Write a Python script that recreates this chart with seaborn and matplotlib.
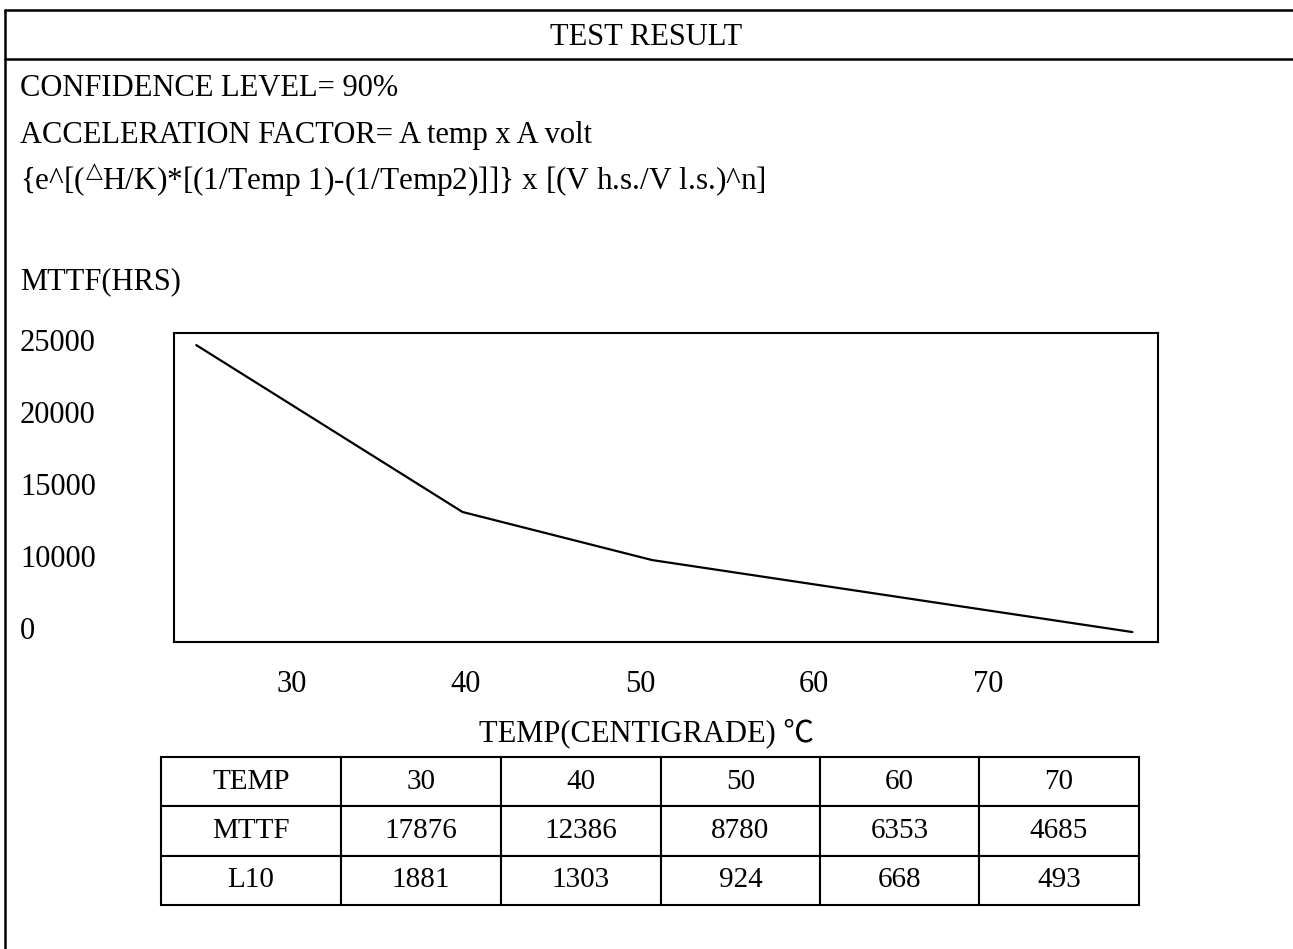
import numpy as np
import pandas as pd
import seaborn as sns
import matplotlib.pyplot as plt
from matplotlib.lines import Line2D

# curve (x in tick-label units, y in hours)
curve_temp = [24.5, 39.8, 50.7, 78.3]
curve_mttf = [24650, 13060, 9720, 4720]

# axis labels as printed (the bottom label reads "0")
ytick_pos = [25000, 20000, 15000, 10000, 5000]
ytick_labels = ["25000", "20000", "15000", "10000", "0"]
xtick_pos = [30, 40, 50, 60, 70]
xtick_labels = ["30", "40", "50", "60", "70"]

# result table
row_names = ["TEMP", "MTTF", "L10"]
table_temp = [30, 40, 50, 60, 70]
table_mttf = [17876, 12386, 8780, 6353, 4685]
table_l10 = [1881, 1303, 924, 668, 493]

sns.set_theme(style="white")
plt.rcParams['font.family'] = ['Liberation Serif', 'Noto Sans CJK SC', 'DejaVu Sans']
plt.rcParams['mathtext.fontset'] = 'dejavuserif'
for key in ['text.color', 'axes.labelcolor', 'xtick.color', 'ytick.color']:
    plt.rcParams[key] = 'black'

W, H = 1293, 949
fig = plt.figure(figsize=(W / 100, H / 100), dpi=100)


def fx(px):
    return px / W


def fy(py):
    return 1 - py / H


# page frame
for x0, y0, x1, y1 in [(5, 10, W, 10), (5, 59, W, 59), (5, 10, 5, H)]:
    fig.add_artist(Line2D([fx(x0), fx(x1)], [fy(y0), fy(y1)], color='black', lw=1.8))

fs = 22
fig.text(0.5, fy(45), "TEST RESULT", ha='center', va='baseline', fontsize=fs)
fig.text(fx(20), fy(96), "CONFIDENCE LEVEL= 90%", va='baseline', fontsize=fs)
fig.text(fx(20), fy(143), "ACCELERATION FACTOR= A temp x A volt", va='baseline', fontsize=fs)
fig.text(fx(20), fy(190),
         "{e^[(${}^{\\!\\triangle}\\!$H/K)*[(1/Temp 1)-(1/Temp2)]]} x [(V h.s./V l.s.)^n]",
         va='baseline', fontsize=fs + 0.5)
fig.text(fx(20), fy(289), "MTTF(HRS)", va='baseline', fontsize=fs)

# chart box
ax = fig.add_axes([fx(174), fy(642), fx(1158) - fx(174), fy(333) - fy(642)])
sns.lineplot(x=curve_temp, y=curve_mttf, color='black', lw=1.6, ax=ax)
ax.set_xlim(23.22, 79.77)
ax.set_ylim(4030, 25490)
ax.set_xticks(xtick_pos, xtick_labels)
ax.set_yticks(ytick_pos, ytick_labels, ha='left')
ax.tick_params(axis='both', length=0, labelsize=fs, colors='black')
ax.tick_params(axis='y', pad=(174 - 20) * 0.72)
ax.tick_params(axis='x', pad=20)
for s in ax.spines.values():
    s.set_visible(True)
    s.set_color('black')
    s.set_linewidth(1.5)
ax.set_xlabel("")
ax.set_ylabel("")

fig.text(0.5, fy(741), "TEMP(CENTIGRADE) ℃", ha='center', va='baseline', fontsize=fs)

# table under the chart
tax = fig.add_axes([fx(161), fy(905), fx(1139) - fx(161), fy(757) - fy(905)])
tax.axis('off')
cell_text = [
    [row_names[0]] + [str(v) for v in table_temp],
    [row_names[1]] + [str(v) for v in table_mttf],
    [row_names[2]] + [str(v) for v in table_l10],
]
col_w = np.array([180, 160, 160, 159, 159, 160], dtype=float)
tbl = tax.table(cellText=cell_text, cellLoc='center', bbox=[0, 0, 1, 1],
                colWidths=list(col_w / col_w.sum()))
tbl.auto_set_font_size(False)
tbl.set_fontsize(21)
for cell in tbl.get_celld().values():
    cell.set_linewidth(1.5)
    cell.set_edgecolor('black')
    cell.set_facecolor('white')
    cell.get_text().set_color('black')

fig.savefig('out.png', dpi=100)
